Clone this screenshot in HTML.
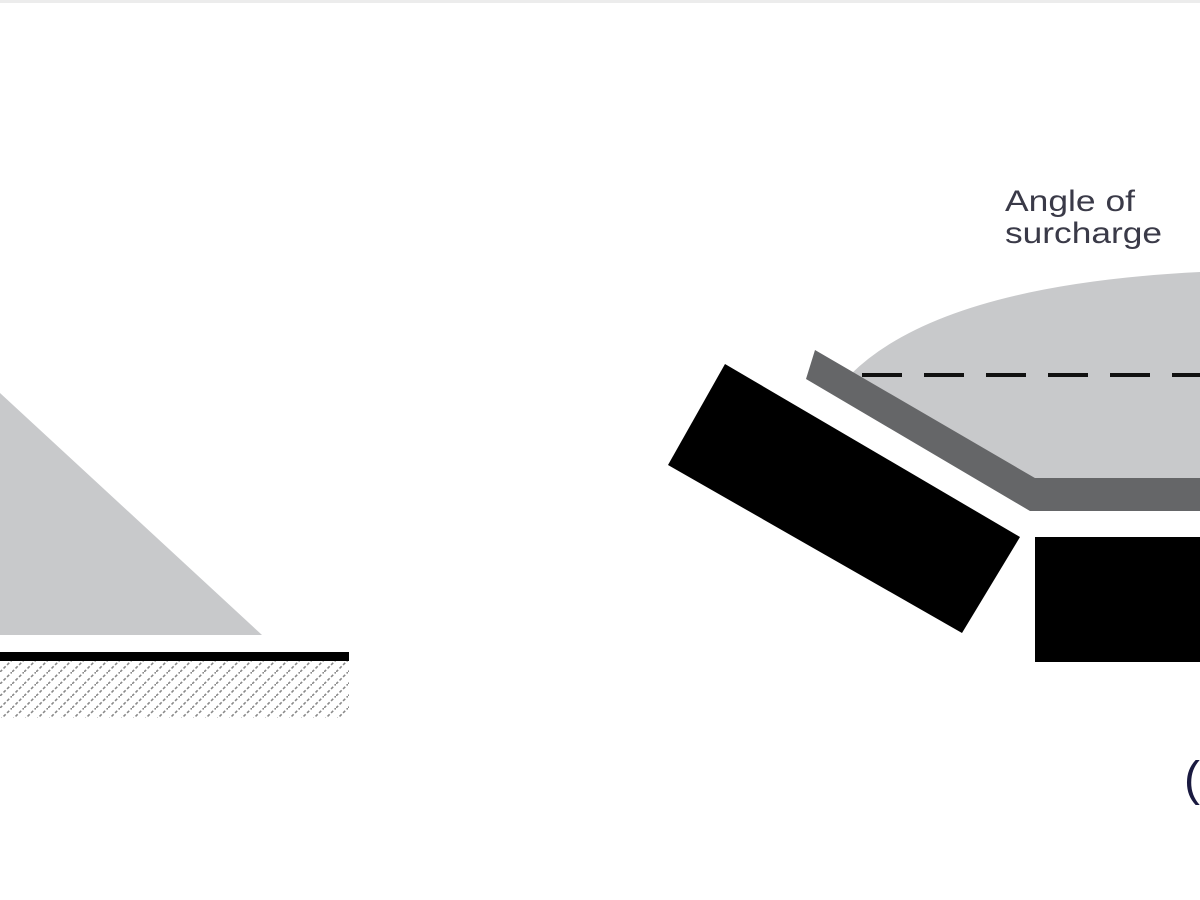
<!DOCTYPE html>
<html><head><meta charset="utf-8"><style>
html,body{margin:0;padding:0;background:#fff;width:1200px;height:900px;overflow:hidden}
svg{display:block}
</style></head><body>
<svg width="1200" height="900" viewBox="0 0 1200 900" xmlns="http://www.w3.org/2000/svg">
<defs>
<pattern id="h" width="12" height="12" patternUnits="userSpaceOnUse">
<line x1="0" y1="12" x2="12" y2="0" stroke="#8a8a8a" stroke-width="1.6" stroke-dasharray="3,2"/>
</pattern>
</defs>
<rect x="0" y="0" width="1200" height="3" fill="#ececec"/>
<!-- left pile -->
<polygon points="0,393 262,635 0,635" fill="#c8c9cb"/>
<rect x="0" y="652" width="349" height="9" fill="#000"/>
<rect x="0" y="661" width="349" height="57" fill="url(#h)"/>
<!-- right -->
<path d="M850,375 Q940,285 1200,272 L1200,478 L1035,478 L818,352 Z" fill="#c8c9cb"/>
<polygon points="815,350 1035,478 1200,478 1200,511 1030,511 806,379" fill="#656668"/>
<line x1="862" y1="375" x2="1200" y2="375" stroke="#111" stroke-width="4" stroke-dasharray="40,22"/>
<polygon points="725,364 1020,537 962,633 668,465" fill="#000"/>
<rect x="1035" y="537" width="165" height="125" fill="#000"/>
<text x="1005" y="211" font-family="Liberation Sans, sans-serif" font-size="30" fill="#3a3a48" textLength="130" lengthAdjust="spacingAndGlyphs">Angle of</text>
<text x="1005" y="243" font-family="Liberation Sans, sans-serif" font-size="30" fill="#3a3a48" textLength="157" lengthAdjust="spacingAndGlyphs">surcharge</text>
<text x="1184" y="795" font-family="Liberation Sans, sans-serif" font-size="48" fill="#1a1a40">(</text>
</svg>
</body></html>
